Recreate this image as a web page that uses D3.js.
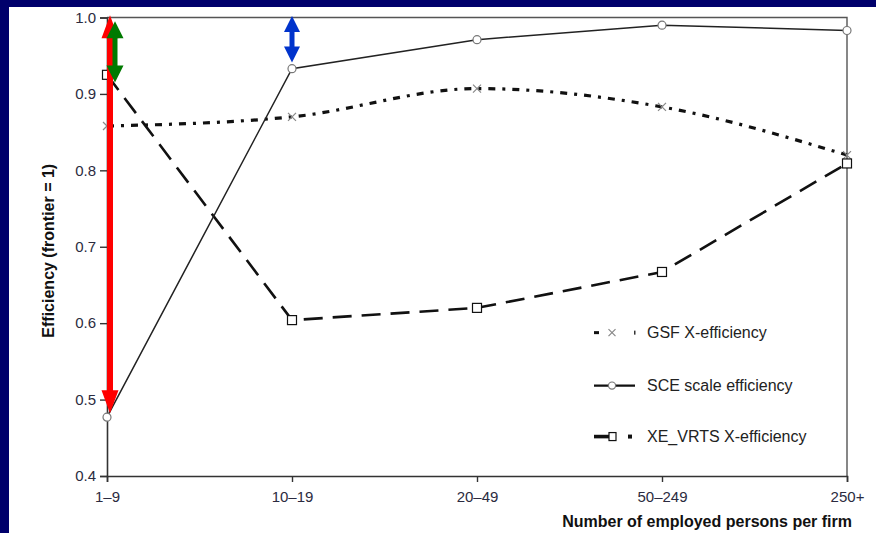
<!DOCTYPE html>
<html lang="en">
<head>
    <meta charset="UTF-8">
    <title>Efficiency by firm size</title>
    <style>
        body {
            margin: 0;
            background: #00006b;
        }

        #plot {
            position: absolute;
            left: 9px;
            top: 7px;
            width: 867px;
            height: 526px;
            background: #fff;
        }

        .tick text {
            font-family: "Liberation Sans", Arial, sans-serif;
            font-size: 15px;
            fill: #2b2b40;
        }

        .axis-title {
            font-family: "Liberation Sans", Arial, sans-serif;
            font-size: 16px;
            font-weight: bold;
            fill: #111;
        }

        .legend text {
            font-family: "Liberation Sans", Arial, sans-serif;
            font-size: 16px;
            fill: #222;
        }
    </style>
</head>
<body>
    <div id="plot"></div>

    <script src="https://d3js.org/d3.v7.min.js"></script>
    <script>
        const sizeClasses = ["1\u20139", "10\u201319", "20\u201349", "50\u2013249", "250+"];
        const gsf = [0.858, 0.870, 0.907, 0.883, 0.820];
        const sce = [0.477, 0.933, 0.971, 0.990, 0.983];
        const xeVrts = [0.925, 0.604, 0.620, 0.667, 0.809];
        const yTicks = [0.4, 0.5, 0.6, 0.7, 0.8, 0.9, 1.0];

        // annotation arrows: from the frontier (1.0) down to a series value
        const arrows = [
            { cls: "1\u20139", top: 1.003, bottom: 0.482, dx: 3, color: "#ff0000", shaft: 6, head: 17, headLen: 23 },
            { cls: "1\u20139", top: 0.995, bottom: 0.915, dx: 8, color: "#007a00", shaft: 5, head: 17, headLen: 17 },
            { cls: "10\u201319", top: 1.002, bottom: 0.941, dx: 0, color: "#0033cc", shaft: 5, head: 16, headLen: 16 }
        ];

        const width = 867;
        const height = 526;
        const margin = { top: 10.5, right: 29, bottom: 57, left: 98 };
        const innerW = width - margin.left - margin.right;
        const innerH = height - margin.top - margin.bottom;

        const xScale = d3.scalePoint()
            .domain(sizeClasses)
            .range([0, innerW]);

        const yScale = d3.scaleLinear()
            .domain([0.4, 1.0])
            .range([innerH, 0]);

        const svg = d3.select("#plot")
            .append("svg")
            .attr("width", width)
            .attr("height", height)
            .append("g")
            .attr("transform", `translate(${margin.left}, ${margin.top})`);

        // frame top + right
        svg.append("path")
            .attr("d", `M0,0H${innerW}V${innerH}`)
            .attr("fill", "none")
            .attr("stroke", "#555")
            .attr("stroke-width", 1.4);

        const yAxis = d3.axisLeft(yScale)
            .tickValues(yTicks)
            .tickFormat(d3.format(".1f"))
            .tickSize(7)
            .tickPadding(4);

        const xAxis = d3.axisBottom(xScale)
            .tickSize(6)
            .tickPadding(9);

        const gy = svg.append("g").attr("class", "y axis").call(yAxis);
        const gx = svg.append("g").attr("class", "x axis")
            .attr("transform", `translate(0, ${innerH})`)
            .call(xAxis);

        [gx, gy].forEach(g => {
            g.select(".domain").attr("stroke", "#333").attr("stroke-width", 1.6);
            g.selectAll(".tick line").attr("stroke", "#333").attr("stroke-width", 1.4);
        });

        svg.append("text")
            .attr("class", "axis-title")
            .attr("text-anchor", "end")
            .attr("x", innerW + 5)
            .attr("y", innerH + 51)
            .text("Number of employed persons per firm");

        svg.append("text")
            .attr("class", "axis-title")
            .attr("text-anchor", "middle")
            .attr("transform", `translate(-53, ${yScale(0.7) + 4}) rotate(-90)`)
            .text("Efficiency (frontier = 1)");

        const rows = (vals) => vals.map((v, i) => ({ cls: sizeClasses[i], v }));

        const curved = d3.line()
            .x(d => xScale(d.cls))
            .y(d => yScale(d.v))
            .curve(d3.curveMonotoneX);

        const straight = d3.line()
            .x(d => xScale(d.cls))
            .y(d => yScale(d.v));

        // XE_VRTS long dash
        svg.append("path")
            .attr("d", straight(rows(xeVrts)))
            .attr("fill", "none")
            .attr("stroke", "#111")
            .attr("stroke-width", 2.6)
            .attr("stroke-dasharray", "19 10");

        // GSF dash-dot
        svg.append("path")
            .attr("d", curved(rows(gsf)))
            .attr("fill", "none")
            .attr("stroke", "#111")
            .attr("stroke-width", 3.2)
            .attr("stroke-dasharray", "7 7 3 7");

        // SCE solid
        svg.append("path")
            .attr("d", straight(rows(sce)))
            .attr("fill", "none")
            .attr("stroke", "#222")
            .attr("stroke-width", 1.5);

        const drawCross = (g, x, y, s) => {
            g.append("path")
                .attr("d", `M${x - s},${y - s}L${x + s},${y + s}M${x - s},${y + s}L${x + s},${y - s}`)
                .attr("stroke", "#888")
                .attr("stroke-width", 1.2)
                .attr("fill", "none");
        };

        rows(gsf).forEach(d => drawCross(svg, xScale(d.cls), yScale(d.v), 4));

        svg.selectAll(".sce-pt")
            .data(rows(sce))
            .enter()
            .append("circle")
            .attr("class", "sce-pt")
            .attr("cx", d => xScale(d.cls))
            .attr("cy", d => yScale(d.v))
            .attr("r", 4)
            .attr("fill", "#fff")
            .attr("stroke", "#777")
            .attr("stroke-width", 1.2);

        svg.selectAll(".xe-pt")
            .data(rows(xeVrts))
            .enter()
            .append("rect")
            .attr("class", "xe-pt")
            .attr("x", d => xScale(d.cls) - 4.5)
            .attr("y", d => yScale(d.v) - 4.5)
            .attr("width", 9)
            .attr("height", 9)
            .attr("fill", "#fff")
            .attr("stroke", "#111")
            .attr("stroke-width", 1.2);

        // double-headed arrows
        arrows.forEach(a => {
            const x = xScale(a.cls) + a.dx;
            const y0 = yScale(a.top);
            const y1 = yScale(a.bottom);
            const hw = a.head / 2;
            const sw = a.shaft / 2;
            const p = [
                [x, y0], [x + hw, y0 + a.headLen], [x + sw, y0 + a.headLen],
                [x + sw, y1 - a.headLen], [x + hw, y1 - a.headLen], [x, y1],
                [x - hw, y1 - a.headLen], [x - sw, y1 - a.headLen],
                [x - sw, y0 + a.headLen], [x - hw, y0 + a.headLen]
            ];
            svg.append("path")
                .attr("d", "M" + p.map(q => q.join(",")).join("L") + "Z")
                .attr("fill", a.color);
        });

        // legend
        const legend = svg.append("g").attr("class", "legend")
            .attr("transform", `translate(${xScale("20\u201349") + 117}, 0)`);
        const legRows = [
            { label: "GSF X-efficiency", y: yScale(0.5876) },
            { label: "SCE scale efficiency", y: yScale(0.5183) },
            { label: "XE_VRTS X-efficiency", y: yScale(0.4516) }
        ];

        // GSF key
        legend.append("rect").attr("x", 0).attr("y", legRows[0].y - 1.5).attr("width", 5).attr("height", 3).attr("fill", "#111");
        drawCross(legend, 18, legRows[0].y, 3.5);
        legend.append("rect").attr("x", 40).attr("y", legRows[0].y - 2).attr("width", 1.5).attr("height", 4).attr("fill", "#333");

        // SCE key
        legend.append("line").attr("x1", 0).attr("x2", 41).attr("y1", legRows[1].y).attr("y2", legRows[1].y)
            .attr("stroke", "#111").attr("stroke-width", 2.4);
        legend.append("circle").attr("cx", 18).attr("cy", legRows[1].y).attr("r", 3.6)
            .attr("fill", "#fff").attr("stroke", "#777").attr("stroke-width", 1.2);

        // XE key
        legend.append("line").attr("x1", 0).attr("x2", 15).attr("y1", legRows[2].y).attr("y2", legRows[2].y)
            .attr("stroke", "#111").attr("stroke-width", 3.6);
        legend.append("rect").attr("x", 15).attr("y", legRows[2].y - 4).attr("width", 7).attr("height", 8)
            .attr("fill", "#fff").attr("stroke", "#111").attr("stroke-width", 1.2);
        legend.append("rect").attr("x", 34).attr("y", legRows[2].y - 2).attr("width", 4).attr("height", 4).attr("fill", "#111");

        legend.selectAll("text")
            .data(legRows)
            .enter()
            .append("text")
            .attr("x", 53)
            .attr("y", d => d.y + 5.5)
            .text(d => d.label);
    </script>
</body>
</html>
